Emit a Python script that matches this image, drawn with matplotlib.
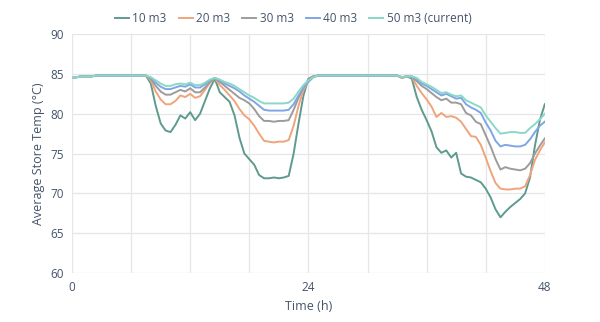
import numpy as np
import matplotlib
matplotlib.use("Agg")
import matplotlib.pyplot as plt
from matplotlib.ticker import MultipleLocator, FuncFormatter

# half-hourly samples over two days
hours = np.arange(0, 48.5, 0.5)

labels = ["10 m3", "20 m3", "30 m3", "40 m3", "50 m3 (current)"]
colors = ["#5f9a8f", "#f0a47c", "#9c9c9c", "#7ea6e6", "#8ad8c6"]

temp_10 = [
    84.5, 84.6, 84.7, 84.7, 84.7, 84.8, 84.8, 84.8, 84.8, 84.8, 84.8, 84.8,
    84.8, 84.8, 84.8, 84.8, 83.8, 81.0, 78.8, 77.9, 77.7, 78.6, 79.8, 79.4,
    80.2, 79.2, 80.0, 81.6, 83.2, 84.4, 82.7, 82.1, 81.5, 79.8, 77.0, 75.0,
    74.3, 73.6, 72.3, 71.9, 71.9, 72.0, 71.9, 72.0, 72.2, 75.0, 78.8, 82.3,
    84.4, 84.7, 84.8, 84.8, 84.8, 84.8, 84.8, 84.8, 84.8, 84.8, 84.8, 84.8,
    84.8, 84.8, 84.8, 84.8, 84.8, 84.8, 84.8, 84.5, 84.7, 84.4, 82.1, 80.5,
    79.2, 77.8, 75.8, 75.1, 75.4, 74.5, 75.1, 72.5, 72.1, 72.0, 71.7, 71.4,
    70.6, 69.5, 68.0, 67.0, 67.7, 68.3, 68.8, 69.3, 70.0, 72.0, 76.0, 79.2,
    81.2,
]
temp_20 = [
    84.5, 84.6, 84.7, 84.7, 84.7, 84.8, 84.8, 84.8, 84.8, 84.8, 84.8, 84.8,
    84.8, 84.8, 84.8, 84.8, 84.2, 82.8, 81.8, 81.2, 81.2, 81.6, 82.3, 82.1,
    82.5, 82.0, 82.2, 83.0, 83.9, 84.5, 83.6, 83.0, 82.3, 81.6, 80.6, 79.8,
    79.3, 78.5, 77.5, 76.6, 76.5, 76.4, 76.5, 76.5, 76.7, 78.5, 81.0, 83.0,
    84.1, 84.6, 84.8, 84.8, 84.8, 84.8, 84.8, 84.8, 84.8, 84.8, 84.8, 84.8,
    84.8, 84.8, 84.8, 84.8, 84.8, 84.8, 84.8, 84.5, 84.7, 84.6, 83.5, 82.6,
    81.8, 80.9, 79.6, 80.1, 79.6, 79.7, 79.5, 79.0, 78.1, 77.2, 77.1, 76.1,
    74.5, 72.8, 71.3, 70.6, 70.5, 70.5, 70.6, 70.6, 70.9, 72.3, 74.2, 75.4,
    76.4,
]
temp_30 = [
    84.5, 84.6, 84.7, 84.7, 84.7, 84.8, 84.8, 84.8, 84.8, 84.8, 84.8, 84.8,
    84.8, 84.8, 84.8, 84.8, 84.4, 83.5, 82.8, 82.4, 82.4, 82.7, 83.0, 82.8,
    83.2, 82.7, 82.7, 83.3, 84.0, 84.5, 84.0, 83.5, 83.0, 82.5, 82.0, 81.7,
    81.3, 80.6, 79.7, 79.1, 79.1, 79.0, 79.1, 79.1, 79.2, 80.5, 82.0, 83.3,
    84.3, 84.7, 84.8, 84.8, 84.8, 84.8, 84.8, 84.8, 84.8, 84.8, 84.8, 84.8,
    84.8, 84.8, 84.8, 84.8, 84.8, 84.8, 84.8, 84.6, 84.7, 84.6, 84.1, 83.5,
    83.1, 82.6, 82.1, 81.7, 81.9, 81.4, 81.4, 81.2, 80.1, 79.8, 79.0, 78.7,
    77.3, 75.9, 74.3, 73.0, 73.3, 73.1, 73.0, 72.9, 73.1, 73.8, 75.0, 76.0,
    76.9,
]
temp_40 = [
    84.5, 84.6, 84.7, 84.7, 84.7, 84.8, 84.8, 84.8, 84.8, 84.8, 84.8, 84.8,
    84.8, 84.8, 84.8, 84.8, 84.5, 83.9, 83.4, 83.1, 83.1, 83.3, 83.5, 83.4,
    83.7, 83.3, 83.3, 83.7, 84.2, 84.5, 84.2, 83.8, 83.5, 83.2, 82.8, 82.3,
    81.9, 81.5, 81.0, 80.5, 80.4, 80.4, 80.4, 80.4, 80.5, 81.2, 82.3, 83.3,
    84.0, 84.6, 84.8, 84.8, 84.8, 84.8, 84.8, 84.8, 84.8, 84.8, 84.8, 84.8,
    84.8, 84.8, 84.8, 84.8, 84.8, 84.8, 84.8, 84.6, 84.7, 84.7, 84.3, 83.8,
    83.5, 83.1, 82.7, 82.3, 82.5, 82.2, 81.9, 82.0, 81.2, 80.8, 80.5, 80.1,
    78.9, 77.9, 76.6, 75.9, 76.1, 76.0, 75.9, 75.9, 76.1, 76.8, 77.7, 78.5,
    79.0,
]
temp_50 = [
    84.5, 84.6, 84.7, 84.7, 84.7, 84.8, 84.8, 84.8, 84.8, 84.8, 84.8, 84.8,
    84.8, 84.8, 84.8, 84.8, 84.6, 84.2, 83.8, 83.5, 83.5, 83.7, 83.8, 83.7,
    83.9, 83.6, 83.6, 83.9, 84.3, 84.5, 84.3, 84.0, 83.8, 83.5, 83.1, 82.7,
    82.3, 82.0, 81.6, 81.3, 81.3, 81.3, 81.3, 81.3, 81.4, 81.9, 82.8, 83.6,
    84.2, 84.6, 84.8, 84.8, 84.8, 84.8, 84.8, 84.8, 84.8, 84.8, 84.8, 84.8,
    84.8, 84.8, 84.8, 84.8, 84.8, 84.8, 84.8, 84.6, 84.7, 84.7, 84.5, 84.0,
    83.7, 83.4, 83.0, 82.6, 82.7, 82.4, 82.2, 82.3, 81.7, 81.4, 81.1, 80.8,
    79.8, 79.0, 78.2, 77.5, 77.6, 77.7, 77.7, 77.6, 77.6, 78.2, 78.7, 79.3,
    80.0,
]
series = [temp_10, temp_20, temp_30, temp_40, temp_50]

text_color = "#44546a"
plt.rcParams["font.family"] = ["Open Sans", "DejaVu Sans"]

fig = plt.figure(figsize=(6.0, 3.22), dpi=100)
ax = fig.add_axes([0.12, 0.152, 0.788, 0.742])

for vals, lab, col in zip(series, labels, colors):
    ax.plot(hours, vals, color=col, lw=1.4, label=lab)

ax.set_xlim(0, 48)
ax.set_ylim(60, 90)
ax.xaxis.set_major_locator(MultipleLocator(6))
ax.xaxis.set_major_formatter(FuncFormatter(lambda v, p: f"{v:.0f}" if v % 24 == 0 else ""))
ax.yaxis.set_major_locator(MultipleLocator(5))
ax.grid(True, color="#e6e6e6", lw=0.9)
ax.set_axisbelow(True)
for s in ax.spines.values():
    s.set_visible(False)
ax.tick_params(length=0, labelsize=8.5, colors=text_color, pad=6)

ax.set_xlabel("Time (h)", fontsize=9, color=text_color, labelpad=4)
ax.set_ylabel("Average Store Temp (°C)", fontsize=9, color=text_color, labelpad=4)

ax.legend(loc="lower center", bbox_to_anchor=(0.468, 0.995), ncol=5, frameon=False,
          fontsize=8.5, handlelength=1.2, handletextpad=0.3, columnspacing=1.0,
          labelcolor=text_color)

fig.savefig("out.png", dpi=100, facecolor="white")
